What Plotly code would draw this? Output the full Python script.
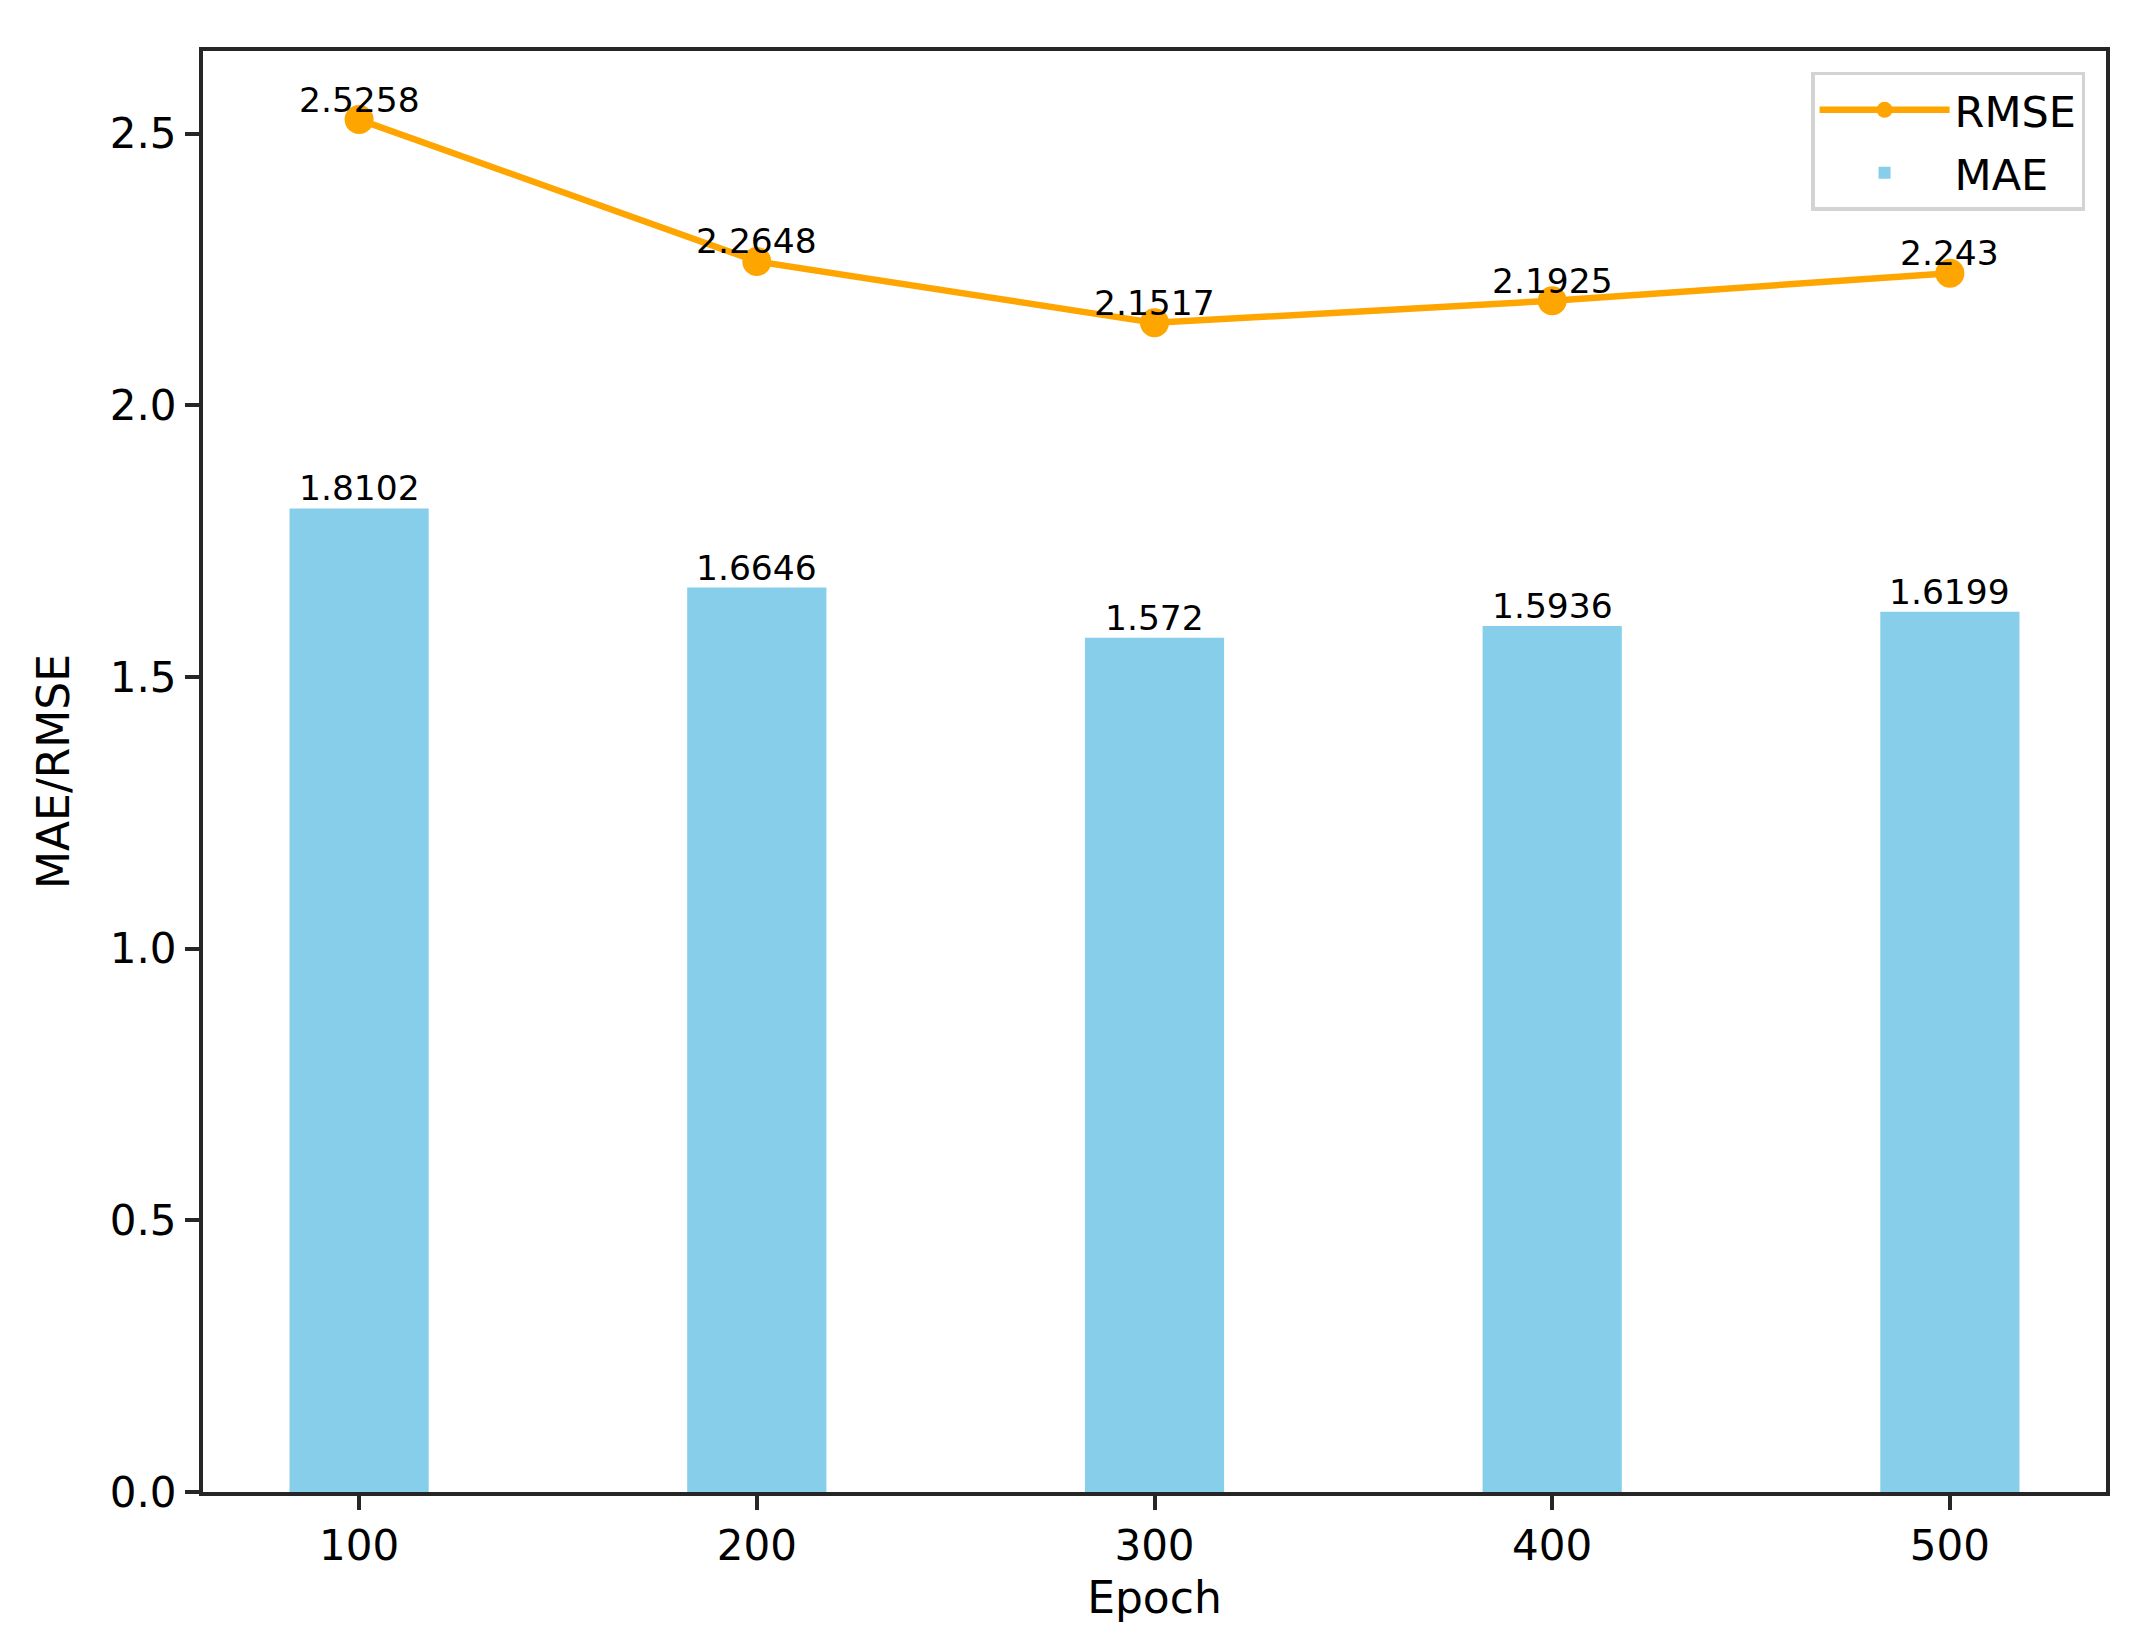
import plotly.graph_objects as go

epochs = [100, 200, 300, 400, 500]
mae = [1.8102, 1.6646, 1.572, 1.5936, 1.6199]
rmse = [2.5258, 2.2648, 2.1517, 2.1925, 2.243]
x_ticks = [100, 200, 300, 400, 500]
y_ticks = [0.0, 0.5, 1.0, 1.5, 2.0, 2.5]
bar_width = 35

FONT = "DejaVu Sans"
fig = go.Figure()
fig.add_trace(go.Scatter(
    x=epochs, y=rmse, mode="lines+markers", name="RMSE", legendgroup="a",
    line=dict(color="#FFA500", width=6.5),
    marker=dict(color="#FFA500", size=29),
))
fig.add_trace(go.Bar(
    x=epochs, y=mae, name="MAE", width=bar_width, legendgroup="b",
    marker=dict(color="#87CEEB", line=dict(width=0)),
))

for xv, yv in zip(epochs, rmse):
    fig.add_annotation(x=xv, y=yv, text=str(yv), showarrow=False,
                       xanchor="center", yanchor="bottom", yshift=-2,
                       font=dict(family=FONT, size=34.5, color="black"))
for xv, yv in zip(epochs, mae):
    fig.add_annotation(x=xv, y=yv, text=str(yv), showarrow=False,
                       xanchor="center", yanchor="bottom", yshift=-2,
                       font=dict(family=FONT, size=34.5, color="black"))

axis_common = dict(
    showline=True, linecolor="#262626", linewidth=4, mirror=True,
    ticks="outside", ticklen=14, tickwidth=3.5, tickcolor="#262626",
    showgrid=False, zeroline=False,
    tickfont=dict(family=FONT, size=42, color="black"),
)

fig.update_layout(
    width=2135, height=1647,
    margin=dict(l=195, r=37, t=43, b=163),
    paper_bgcolor="white", plot_bgcolor="white",
    font=dict(family=FONT, size=42, color="black"),
    showlegend=True,
    legend=dict(
        x=0.989, y=0.9855, xanchor="right", yanchor="top",
        bgcolor="white", bordercolor="#d3d3d3", borderwidth=3.5,
        font=dict(family=FONT, size=43, color="black"),
        itemwidth=130, tracegroupgap=4, itemsizing="trace",
    ),
    xaxis=dict(range=[60.75, 539.25], tickvals=x_ticks,
               title=dict(text="Epoch", standoff=14,
                          font=dict(family=FONT, size=44, color="black")),
               **axis_common),
    yaxis=dict(range=[0, 2.652], tickvals=y_ticks, tickformat=".1f",
               title=dict(text="MAE/RMSE", standoff=27,
                          font=dict(family=FONT, size=44, color="black")),
               **axis_common),
)

fig.write_html("out.html")
